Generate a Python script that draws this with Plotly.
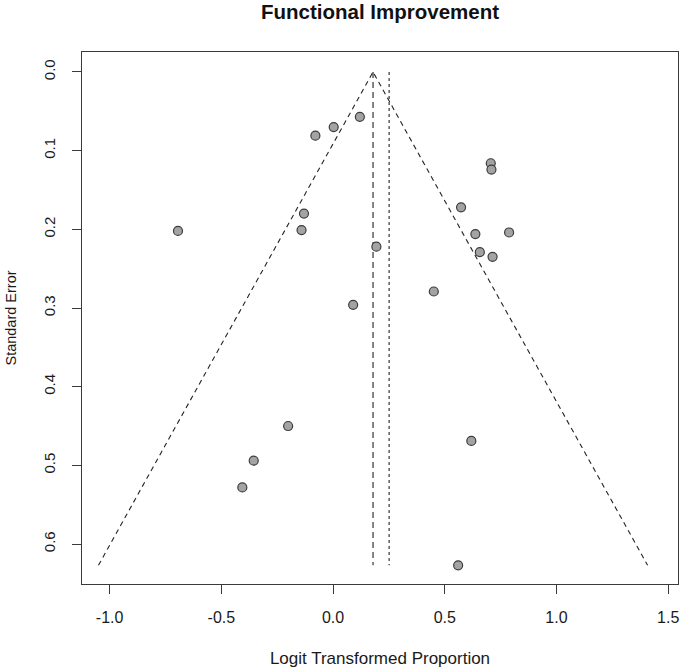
import plotly.graph_objects as go

# Study data (logit transformed proportion, standard error)
logit_prop = [0.120, 0.003, -0.079, -0.130, -0.141, 0.194,
              0.706, 0.709, 0.573, 0.637, 0.788, 0.657, 0.714, 0.451,
              -0.694, 0.090, -0.201, -0.355, -0.406, 0.619, 0.560]
std_err = [0.057, 0.070, 0.081, 0.180, 0.201, 0.222,
           0.116, 0.124, 0.172, 0.206, 0.204, 0.229, 0.235, 0.279,
           0.202, 0.296, 0.450, 0.494, 0.528, 0.469, 0.627]

pooled_est = 0.179      # dashed vertical line / funnel apex
ref_line = 0.251        # dotted vertical line
se_max = 0.627
z = 1.96

x_ticks = [-1.0, -0.5, 0.0, 0.5, 1.0, 1.5]
y_ticks = [0.0, 0.1, 0.2, 0.3, 0.4, 0.5, 0.6]

font_family = "Liberation Sans, Arial, sans-serif"
axis_col = "#3a3a3a"

fig = go.Figure()

# funnel
fig.add_trace(go.Scatter(
    x=[pooled_est - z * se_max, pooled_est, pooled_est + z * se_max],
    y=[se_max, 0.0, se_max],
    mode="lines", line=dict(color="#222222", width=1.1, dash="5px,4px"),
    hoverinfo="skip", showlegend=False))
# pooled estimate
fig.add_trace(go.Scatter(
    x=[pooled_est, pooled_est], y=[0.0, se_max],
    mode="lines", line=dict(color="#222222", width=1.1, dash="6px,4px"),
    hoverinfo="skip", showlegend=False))
# reference line
fig.add_trace(go.Scatter(
    x=[ref_line, ref_line], y=[0.0, se_max],
    mode="lines", line=dict(color="#222222", width=1.1, dash="dot"),
    hoverinfo="skip", showlegend=False))
# studies
fig.add_trace(go.Scatter(
    x=logit_prop, y=std_err, mode="markers",
    marker=dict(size=9, color="#a3a3a3", line=dict(color="#3c3c3c", width=1.2)),
    showlegend=False))

fig.update_layout(
    width=683, height=670,
    margin=dict(l=82, r=5, t=52, b=86),
    paper_bgcolor="white", plot_bgcolor="white",
    font=dict(family=font_family, size=15, color="#1a1a1a"),
    title=dict(text="<b>Functional Improvement</b>", x=0.5, xref="paper",
               y=1 - 12 / 670, yref="container", yanchor="middle",
               font=dict(size=20.5, family=font_family, color="#111111")),
)
fig.update_xaxes(
    range=[-1.1236, 1.544], tickvals=x_ticks,
    ticktext=[f"{v:.1f}" for v in x_ticks],
    showgrid=False, zeroline=False, automargin=False,
    showline=True, linecolor=axis_col, linewidth=1.2, mirror=True,
    ticks="outside", ticklen=9, tickcolor=axis_col, tickwidth=1.2,
    tickfont=dict(size=16), ticklabelstandoff=10, ticklabeloverflow="allow",
    title=dict(text="Logit Transformed Proportion", font=dict(size=17), standoff=26),
)
fig.update_yaxes(
    range=[0.6508, -0.0254], tickvals=y_ticks,
    ticktext=[f"{v:.1f}" for v in y_ticks],
    showgrid=False, zeroline=False, automargin=False,
    showline=True, linecolor=axis_col, linewidth=1.2, mirror=True,
    ticks="outside", ticklen=9, tickcolor=axis_col, tickwidth=1.2,
    tickangle=-90, tickfont=dict(size=15), ticklabelstandoff=11,
    title=dict(text="Standard Error", font=dict(size=14.5), standoff=20),
)

# remove the default page margin so the figure fills the window exactly
fig.write_html("out.html",
               config={"displayModeBar": False},
               post_script="document.body.style.margin='0';document.body.style.overflow='hidden';")
